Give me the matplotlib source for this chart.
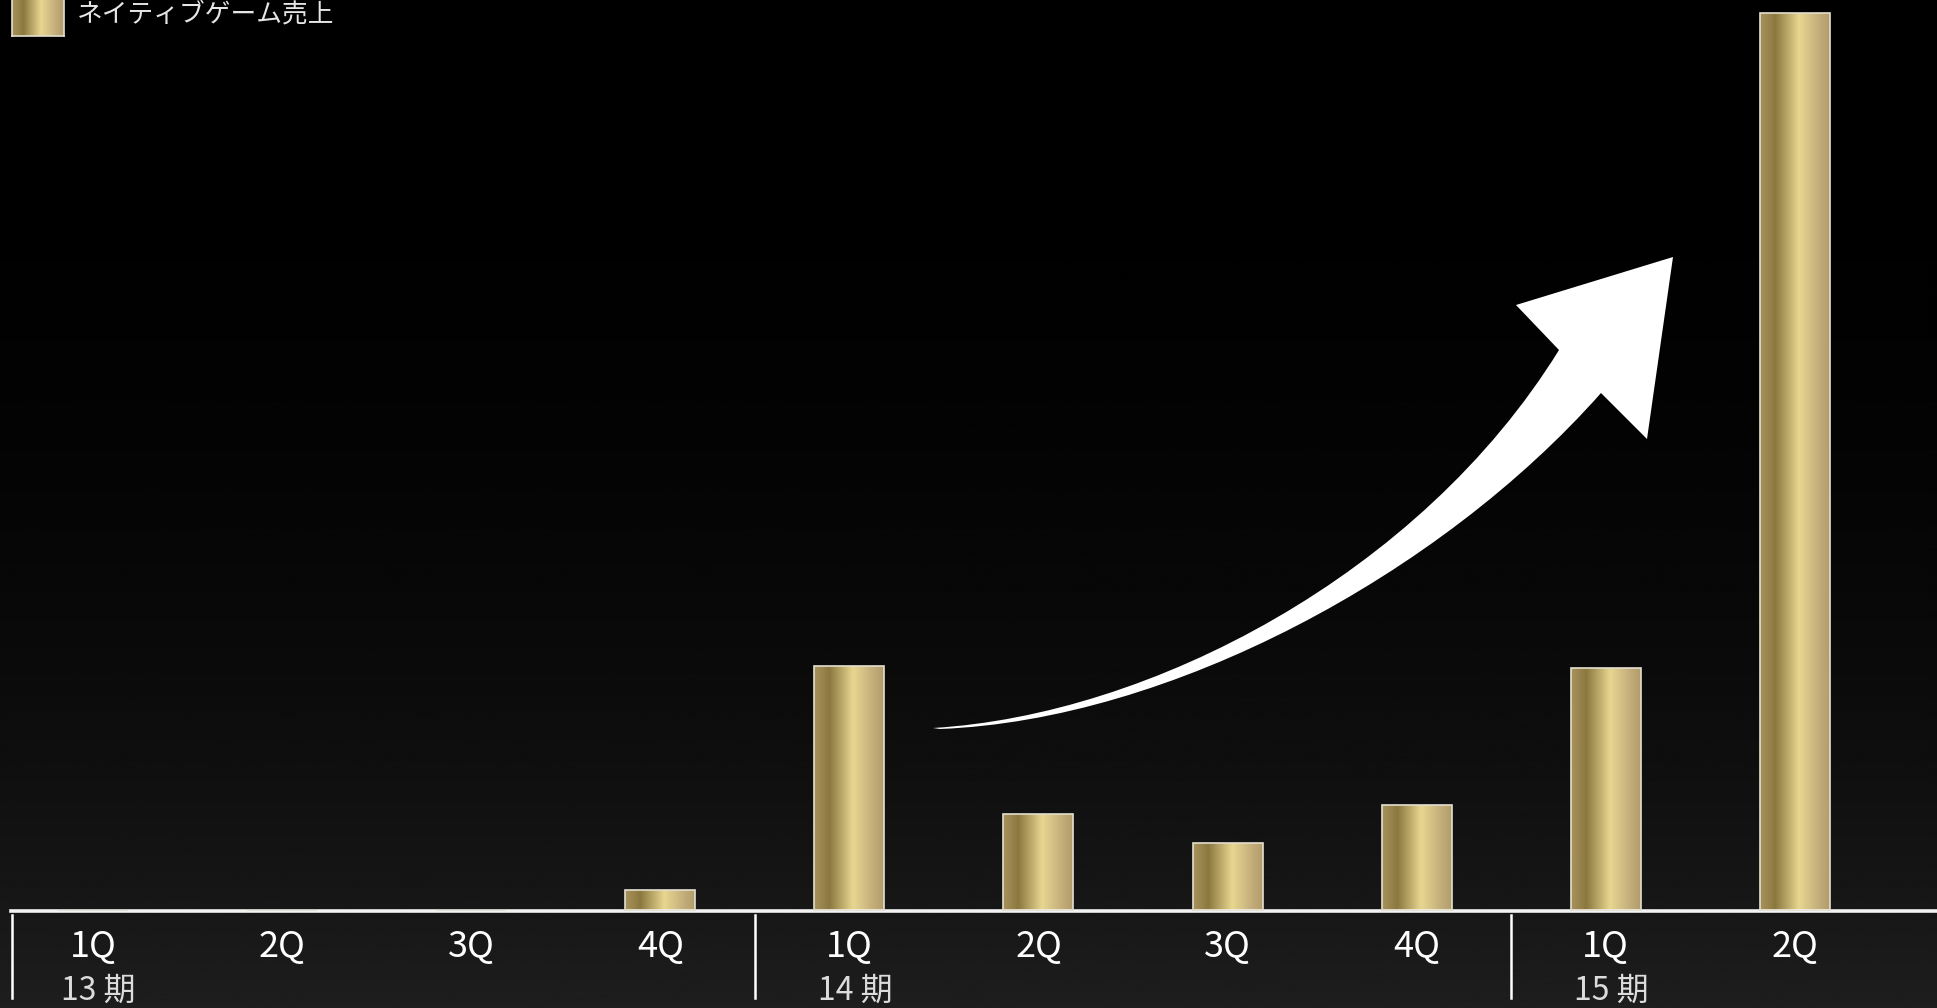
import numpy as np
import matplotlib.pyplot as plt
from matplotlib.colors import LinearSegmentedColormap
from matplotlib.path import Path
from matplotlib.patches import PathPatch
import matplotlib.transforms as mtransforms

plt.rcParams['font.family'] = ['Noto Sans CJK JP', 'DejaVu Sans']

# quarterly native-game sales
quarters = ['1Q', '2Q', '3Q', '4Q', '1Q', '2Q', '3Q', '4Q', '1Q', '2Q']
sales = [0, 0, 0, 21, 245, 97, 68, 106, 243, 898]
periods = ['13 期', '14 期', '15 期']
period_start = [0, 4, 8]
legend_label = 'ネイティブゲーム売上'

W, H = 1937, 1008
fig = plt.figure(figsize=(W / 100, H / 100), dpi=100)

# dark background fading from black at the top
bg = fig.add_axes([0, 0, 1, 1], zorder=-10)
yy = np.linspace(0, 1, 400) ** 2.5
bg.imshow(yy[:, None] * 0.118, cmap='gray', vmin=0, vmax=1, aspect='auto',
          extent=[0, 1, 0, 1])
bg.set_axis_off()

gold = LinearSegmentedColormap.from_list('gold', [
    (0.0, '#a8935c'), (0.22, '#8b783f'), (0.56, '#e8d690'),
    (0.8, '#c9b47f'), (1.0, '#b09b6a')])
grad = np.linspace(0, 1, 256)[None, :]

ax = fig.add_axes([11 / W, (H - 911) / H, (W - 11) / W, 911 / H])
ax.set_facecolor('none')
x = np.arange(len(sales))
bars = ax.bar(x, sales, width=0.37, color='none', edgecolor='#e4dfcf',
              linewidth=1.2, zorder=3)
for b in bars:
    if b.get_height() > 0:
        ax.imshow(grad, cmap=gold, aspect='auto', zorder=2,
                  extent=[b.get_x(), b.get_x() + b.get_width(), 0, b.get_height()])

xmin, xmax = -0.434, 9.752
ax.set_xlim(xmin, xmax)
ax.set_ylim(0, 911)
for s in ['top', 'right', 'left']:
    ax.spines[s].set_visible(False)
ax.spines['bottom'].set_color('#f2f2f2')
ax.spines['bottom'].set_linewidth(2.6)
ax.set_yticks([])
ax.set_xticks([])

trans = mtransforms.blended_transform_factory(ax.transData, ax.transAxes)
for xi, q in zip(x, quarters):
    ax.text(xi, -0.040, q, transform=trans, ha='center', va='center',
            fontsize=26, color='white')
for p, xs in zip(periods, period_start):
    ax.text(xs + 0.03, -0.087, p, transform=trans, ha='center', va='center',
            fontsize=23, color='#dcdcdc')
# period separators
for xs in [xmin + 0.004, 3.5, 7.5]:
    ax.plot([xs, xs], [-0.004, -0.095], transform=trans, color='white',
            lw=1.8, clip_on=False)


def px(a, b):
    return (a / W, 1 - b / H)


# curved growth arrow
verts = [px(933, 728),
         px(1150, 715), px(1420, 575), px(1559, 350),
         px(1516, 305), px(1673, 257), px(1647, 439), px(1601, 393),
         px(1440, 575), px(1170, 720), px(940, 729),
         px(933, 728)]
codes = [Path.MOVETO,
         Path.CURVE4, Path.CURVE4, Path.CURVE4,
         Path.LINETO, Path.LINETO, Path.LINETO, Path.LINETO,
         Path.CURVE4, Path.CURVE4, Path.CURVE4,
         Path.CLOSEPOLY]
arrow = PathPatch(Path(verts, codes), facecolor='white', edgecolor='none',
                  transform=fig.transFigure, clip_on=False, zorder=5)
ax.add_artist(arrow)

# legend swatch and label
lax = fig.add_axes([12 / W, 1 - 36 / H, 52 / W, 40 / H])
lax.imshow(grad, cmap=gold, aspect='auto')
lax.set_xticks([])
lax.set_yticks([])
for s in lax.spines.values():
    s.set_color('#e4dfcf')
    s.set_linewidth(1.2)
fig.text(77 / W, 1 - 14 / H, legend_label, ha='left', va='center',
         fontsize=18.5, color='#e6e6e6')

fig.savefig('out.png', dpi=100)
